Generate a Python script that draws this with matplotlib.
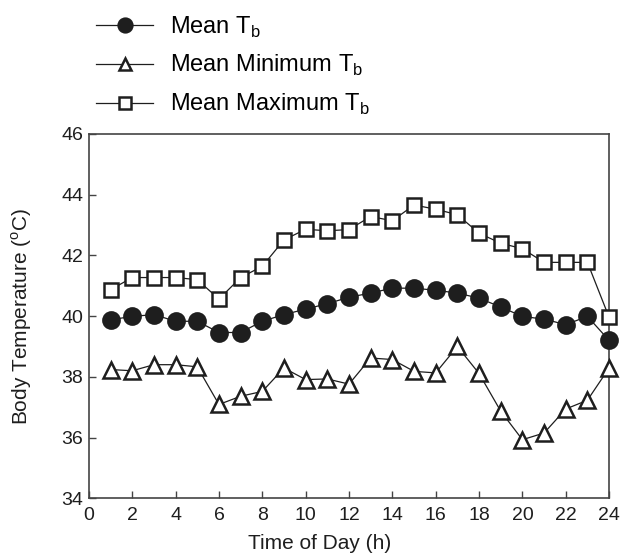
import matplotlib
matplotlib.use("Agg")
import matplotlib.pyplot as plt

plt.rcParams['font.family'] = ['Liberation Sans', 'DejaVu Sans']

hours = list(range(1, 25))

mean_tb = [39.88, 39.99, 40.05, 39.83, 39.83, 39.46, 39.46, 39.83, 40.05, 40.23,
           40.41, 40.62, 40.76, 40.92, 40.92, 40.85, 40.76, 40.59, 40.30, 39.99,
           39.90, 39.72, 39.99, 39.20]
min_tb = [38.24, 38.20, 38.40, 38.40, 38.33, 37.09, 37.36, 37.52, 38.29, 37.91,
          37.93, 37.76, 38.62, 38.57, 38.18, 38.13, 39.00, 38.11, 36.87, 35.93,
          36.15, 36.94, 37.23, 38.29]
max_tb = [40.87, 41.27, 41.27, 41.27, 41.20, 40.56, 41.27, 41.64, 42.51, 42.86,
          42.81, 42.85, 43.28, 43.14, 43.66, 43.52, 43.34, 42.73, 42.40, 42.22,
          41.77, 41.77, 41.77, 39.96]

xticks = list(range(0, 25, 2))
yticks = list(range(34, 47, 2))

ink = '#1e1e1e'

fig = plt.figure(figsize=(6.26, 5.58), dpi=100)
ax = fig.add_axes([0.142, 0.107, 0.831, 0.653])

l1, = ax.plot(hours, mean_tb, '-o', color=ink, lw=0.9, ms=12,
              mfc=ink, mec=ink, mew=1.5, clip_on=False, zorder=4)
l2, = ax.plot(hours, min_tb, '-^', color=ink, lw=0.9, ms=11,
              mfc='white', mec=ink, mew=1.8, clip_on=False, zorder=3)
l3, = ax.plot(hours, max_tb, '-s', color=ink, lw=0.9, ms=10,
              mfc='white', mec=ink, mew=1.8, clip_on=False, zorder=3)

ax.set_xlim(0, 24)
ax.set_ylim(34, 46)
ax.set_xticks(xticks)
ax.set_yticks(yticks)
ax.tick_params(direction='in', length=5, width=1, colors='#444444',
               labelcolor=ink, labelsize=14)
ax.tick_params(axis='x', pad=6)
ax.tick_params(axis='y', pad=4)
for sp in ax.spines.values():
    sp.set_color('#444444')
    sp.set_linewidth(1.2)

ax.set_xlabel('Time of Day (h)', fontsize=15, color=ink)
ax.xaxis.set_label_coords(0.444, -0.097)
ax.set_ylabel(r'Body Temperature ($^\mathregular{o}$C)', fontsize=15,
              color=ink)
ax.yaxis.set_label_coords(-0.106, 0.5)

fig.legend([l1, l2, l3],
           [r'Mean T$_\mathregular{b}$',
            r'Mean Minimum T$_\mathregular{b}$',
            r'Mean Maximum T$_\mathregular{b}$'],
           loc='upper left', bbox_to_anchor=(0.12, 1.012), frameon=False,
           fontsize=17, handlelength=2.4, handletextpad=0.7,
           labelspacing=0.57, markerscale=0.85)

fig.savefig('out.png', dpi=100)
